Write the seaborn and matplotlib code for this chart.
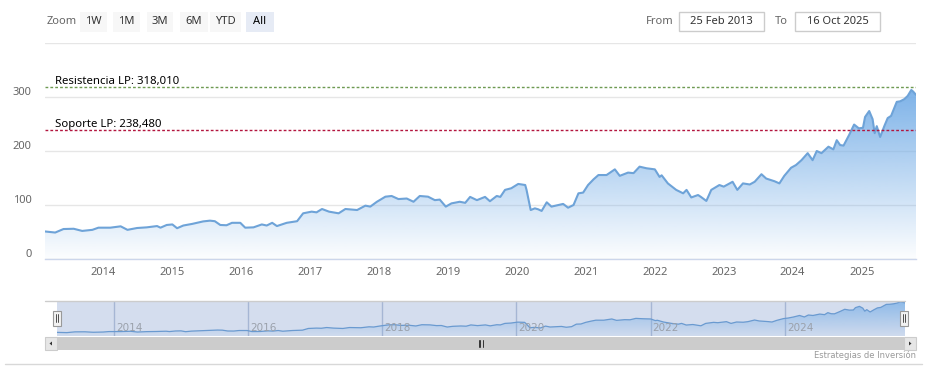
import numpy as np
import pandas as pd
import matplotlib
matplotlib.use("Agg")
import matplotlib.pyplot as plt
import matplotlib.dates as mdates
import seaborn as sns
from matplotlib.patches import Rectangle, Polygon
from matplotlib.lines import Line2D
from matplotlib.transforms import ScaledTranslation

# ---------------- data ----------------
dates = [
    "2013-02-25", "2013-04-20", "2013-06-03", "2013-07-27", "2013-09-10", "2013-11-03", "2013-12-05",
    "2014-02-06", "2014-04-02", "2014-05-08", "2014-06-28", "2014-08-18", "2014-10-12", "2014-10-30",
    "2014-12-02", "2015-01-01", "2015-01-26", "2015-02-28", "2015-04-16", "2015-06-13", "2015-07-19",
    "2015-08-14", "2015-09-12", "2015-10-15", "2015-11-13", "2015-12-27", "2016-01-22", "2016-03-06",
    "2016-04-19", "2016-05-15", "2016-06-13", "2016-07-08", "2016-08-29", "2016-10-23", "2016-11-24",
    "2017-01-08", "2017-02-03", "2017-03-04", "2017-04-10", "2017-05-31", "2017-07-06", "2017-09-06",
    "2017-10-20", "2017-11-15", "2017-12-20", "2018-02-03", "2018-03-08", "2018-04-13", "2018-05-27",
    "2018-07-02", "2018-08-04", "2018-09-17", "2018-10-23", "2018-11-18", "2018-12-20", "2019-01-19",
    "2019-03-04", "2019-04-02", "2019-04-28", "2019-06-03", "2019-07-16", "2019-08-11", "2019-09-16",
    "2019-10-05", "2019-10-30", "2019-12-02", "2020-01-08", "2020-02-14", "2020-02-21", "2020-03-14",
    "2020-04-05", "2020-04-23", "2020-05-11", "2020-06-07", "2020-07-02", "2020-08-08", "2020-09-02",
    "2020-09-28", "2020-10-27", "2020-11-22", "2020-12-17", "2021-01-12", "2021-02-10", "2021-03-08",
    "2021-04-20", "2021-06-03", "2021-06-29", "2021-08-12", "2021-09-10", "2021-10-12", "2021-11-18",
    "2022-01-01", "2022-01-26", "2022-02-06", "2022-03-11", "2022-04-24", "2022-05-31", "2022-06-18",
    "2022-07-13", "2022-08-18", "2022-09-02", "2022-10-01", "2022-10-27", "2022-11-24", "2022-12-09",
    "2023-01-01", "2023-02-17", "2023-03-14", "2023-04-13", "2023-05-19", "2023-06-14", "2023-07-20",
    "2023-08-14", "2023-09-27", "2023-10-23", "2023-11-18", "2023-12-24", "2024-01-19", "2024-02-17",
    "2024-03-21", "2024-04-16", "2024-05-08", "2024-06-02", "2024-07-09", "2024-08-04", "2024-08-22",
    "2024-09-09", "2024-09-27", "2024-10-27", "2024-11-22", "2024-12-17", "2025-01-08", "2025-01-19",
    "2025-02-10", "2025-02-28", "2025-03-11", "2025-03-22", "2025-04-09", "2025-05-01", "2025-05-19",
    "2025-06-06", "2025-07-06", "2025-07-24", "2025-08-15", "2025-09-02", "2025-09-21", "2025-10-01",
    "2025-10-16",
]
values = [
    51, 49, 55.5, 56, 52, 54, 58,
    58, 60.5, 54, 57.4, 58.6, 61, 58,
    63, 64, 57, 62, 65, 69.6, 71,
    70, 63, 62.5, 67, 67, 58, 58.6,
    64, 62, 67, 61, 67, 70, 84.6,
    87.7, 86.4, 92.6, 87.7, 84.6, 92.6, 90.7,
    98.8, 97, 106, 115.4, 116.7, 111, 112,
    106, 116.7, 115.4, 109, 110, 97, 103,
    106, 104, 115, 109, 115, 107, 116.7,
    115, 128, 131, 139, 137, 128, 90.7,
    93.8, 92, 89, 105, 97, 100, 102,
    95, 100, 121.6, 123, 137, 147.5, 155.5,
    155.5, 166, 154, 160, 159, 171, 168,
    166, 152, 155, 140, 128, 121.6, 128,
    114, 118.5, 115, 107.5, 128, 134, 137,
    134, 143, 128, 140, 138, 143, 157,
    149, 144, 140, 154, 169, 174, 183,
    196, 183, 200, 196, 208, 203, 220,
    211, 210, 230, 249, 242, 243, 263,
    274, 259, 233, 246, 226, 246, 261,
    265, 291, 292, 296, 302, 313, 310,
    304,
]
resistance = 318.010
support = 238.480
resistance_label = "Resistencia LP: 318,010"
support_label = "Soporte LP: 238,480"
year_ticks = [2014, 2015, 2016, 2017, 2018, 2019, 2020, 2021, 2022, 2023, 2024, 2025]
nav_year_ticks = [2014, 2016, 2018, 2020, 2022, 2024]
y_ticks = [0, 100, 200, 300, 400]
y_labels = ["0", "100", "200", "300", ""]
zoom_buttons = ["1W", "1M", "3M", "6M", "YTD", "All"]
from_date = "25 Feb 2013"
to_date = "16 Oct 2025"
credit = "Estrategias de Inversión"

# ---------------- style ----------------
W, H = 931, 379
sns.set_style("white")
plt.rcParams["font.family"] = ["Noto Sans", "DejaVu Sans"]

LINE = "#6ea3d8"
FILL_RGB = np.array([118, 174, 231]) / 255.0
GRID = "#e6e6e6"
LABEL = "#666666"


def fx(px):
    return px / W


def fy(py):
    return 1 - py / H


df = pd.DataFrame({"date": pd.to_datetime(dates), "value": values})
xnum = mdates.date2num(df["date"])
yv = np.asarray(values, dtype=float)

fig = plt.figure(figsize=(W / 100, H / 100), dpi=100)
fig.patch.set_facecolor("white")


def grad_fill(ax, x, y, base, ymax, a_top, a_bot, zorder=2):
    verts = [(x[0], base)] + list(zip(x, y)) + [(x[-1], base)]
    patch = Polygon(verts, closed=True, facecolor="none", edgecolor="none")
    ax.add_patch(patch)
    n = 256
    img = np.zeros((n, 1, 4))
    img[..., :3] = FILL_RGB
    img[..., 3] = np.linspace(a_top, a_bot, n)[:, None]
    im = ax.imshow(img, extent=[x[0], x[-1], base, ymax], aspect="auto",
                   origin="upper", zorder=zorder, interpolation="bilinear")
    im.set_clip_path(patch)


# ---------------- main axes ----------------
ax = fig.add_axes([fx(45), fy(259), fx(871), 216 / H])
grad_fill(ax, xnum, yv, 0, yv.max(), 0.95, 0.02)
sns.lineplot(data=df, x="date", y="value", ax=ax, color=LINE, lw=1.5, zorder=3)
ax.set_xlim(xnum[0], xnum[-1])
ax.set_ylim(0, 400)
ax.set_xlabel("")
ax.set_ylabel("")
for s in ["top", "left", "right"]:
    ax.spines[s].set_visible(False)
ax.spines["bottom"].set_color("#ccd6eb")
ax.spines["bottom"].set_linewidth(1)
ax.set_yticks(y_ticks)
ax.set_yticklabels(y_labels)
ax.yaxis.grid(True, color=GRID, lw=1)
ax.xaxis.grid(False)
ax.set_axisbelow(True)
ax.tick_params(axis="y", length=0, pad=9.5, labelcolor=LABEL, labelsize=8)
for lab in ax.get_yticklabels():
    lab.set_transform(lab.get_transform() + ScaledTranslation(0, 6 / 100, fig.dpi_scale_trans))
xt = [mdates.date2num(pd.Timestamp(f"{y}-01-01")) for y in year_ticks]
ax.set_xticks(xt)
ax.set_xticklabels([str(y) for y in year_ticks])
ax.tick_params(axis="x", length=5, width=1, color="#ccd6eb", labelcolor=LABEL,
               labelsize=8, pad=1, direction="out")

# plot lines
ax.axhline(resistance, color="#6e9a52", lw=1, ls=(0, (2, 1.5)), zorder=4)
ax.axhline(support, color="#b3163f", lw=1, ls=(0, (2, 1.5)), zorder=4)
ax.annotate(resistance_label, xy=(0, resistance), xycoords=("axes fraction", "data"),
            xytext=(10, 0), textcoords="offset pixels", va="bottom", ha="left",
            fontsize=8.2, color="black", zorder=5)
ax.annotate(support_label, xy=(0, support), xycoords=("axes fraction", "data"),
            xytext=(10, 0), textcoords="offset pixels", va="bottom", ha="left",
            fontsize=8.2, color="black", zorder=5)

# ---------------- navigator ----------------
nav = fig.add_axes([fx(57), fy(336), fx(848), 35 / H])
nav.set_facecolor("white")
grad_fill(nav, xnum, yv, 20, yv.max(), 0.75, 0.05, zorder=2)
sns.lineplot(data=df, x="date", y="value", ax=nav, color="#6a9ad0", lw=0.9, zorder=3)
nav.set_xlim(xnum[0], xnum[-1])
nav.set_ylim(20, 320)
nav.set_xlabel("")
nav.set_ylabel("")
nav.set_yticks([])
nxt = [mdates.date2num(pd.Timestamp(f"{y}-01-01")) for y in nav_year_ticks]
nav.set_xticks(nxt)
nav.set_xticklabels([])
nav.tick_params(axis="x", length=0)
nav.xaxis.grid(True, color="#c0c9db", lw=1)
nav.set_axisbelow(True)
for s in nav.spines.values():
    s.set_visible(False)
# mask (selected range shading)
nav.axvspan(xnum[0], xnum[-1], color=(102 / 255, 133 / 255, 194 / 255), alpha=0.28, lw=0, zorder=1)
for y, xv in zip(nav_year_ticks, nxt):
    nav.annotate(str(y), xy=(xv, 0), xycoords=("data", "axes fraction"),
                 xytext=(2, 3), textcoords="offset pixels", ha="left", va="bottom",
                 fontsize=7.5, color="#9aa0aa", zorder=4, family="DejaVu Sans")

# outline top
fig.add_artist(Line2D([fx(45), fx(905)], [fy(301), fy(301)], color="#cccccc", lw=1,
                      transform=fig.transFigure))

# handles
for hx in (57, 904):
    fig.add_artist(Rectangle((fx(hx - 4), fy(326)), fx(8), 15 / H, transform=fig.transFigure,
                             facecolor="#f2f2f2", edgecolor="#999999", lw=0.8, zorder=6))
    for dx in (-1, 1):
        fig.add_artist(Line2D([fx(hx + dx), fx(hx + dx)], [fy(314), fy(322)], color="#333333",
                              lw=0.6, transform=fig.transFigure, zorder=7))

# scrollbar
fig.add_artist(Rectangle((fx(45), fy(350)), fx(871), 13 / H, transform=fig.transFigure,
                         facecolor="#f2f2f2", edgecolor="#f2f2f2", lw=0, zorder=5))
fig.add_artist(Rectangle((fx(57), fy(350)), fx(847), 13 / H, transform=fig.transFigure,
                         facecolor="#cccccc", edgecolor="#cccccc", lw=0, zorder=5))
for bx in (45, 904):
    fig.add_artist(Rectangle((fx(bx), fy(350)), fx(12), 13 / H, transform=fig.transFigure,
                             facecolor="#e6e6e6", edgecolor="#cccccc", lw=0.8, zorder=6))
# arrows
fig.add_artist(Polygon([(fx(49.5), fy(343.5)), (fx(52), fy(341.5)), (fx(52), fy(345.5))],
                       closed=True, transform=fig.transFigure, facecolor="#333333", lw=0, zorder=7))
fig.add_artist(Polygon([(fx(911.5), fy(343.5)), (fx(909), fy(341.5)), (fx(909), fy(345.5))],
                       closed=True, transform=fig.transFigure, facecolor="#333333", lw=0, zorder=7))
for gx in (478.5, 480.5, 482.5):
    fig.add_artist(Line2D([fx(gx), fx(gx)], [fy(340), fy(347)], color="#333333", lw=0.7,
                          transform=fig.transFigure, zorder=7))

# credits + bottom rule
fig.text(fx(916), fy(355), credit, ha="right", va="center", fontsize=6, color="#999999",
         family="DejaVu Sans")
fig.add_artist(Line2D([fx(5), fx(922)], [fy(364), fy(364)], color="#d8d8d8", lw=1,
                      transform=fig.transFigure))

# ---------------- range selector ----------------
fig.text(fx(47), fy(21), "Zoom", ha="left", va="center", fontsize=8, color=LABEL)
btn_x = [(80, 107), (113, 140), (147, 173), (180, 208), (210, 241), (246, 274)]
for lab, (x0, x1) in zip(zoom_buttons, btn_x):
    sel = lab == "All"
    fig.add_artist(Rectangle((fx(x0), fy(32)), fx(x1 - x0), 20 / H, transform=fig.transFigure,
                             facecolor="#e6ebf5" if sel else "#f7f7f7", lw=0))
    fig.text(fx((x0 + x1) / 2), fy(21), lab, ha="center", va="center", fontsize=8,
             color="black" if sel else "#333333", fontweight="bold" if sel else "normal")

fig.text(fx(646), fy(21), "From", ha="left", va="center", fontsize=8, color=LABEL)
fig.add_artist(Rectangle((fx(679), fy(31)), fx(85), 19 / H, transform=fig.transFigure,
                         facecolor="white", edgecolor="#cccccc", lw=1))
fig.text(fx(721.5), fy(21), from_date, ha="center", va="center", fontsize=8, color="#333333")
fig.text(fx(775), fy(21), "To", ha="left", va="center", fontsize=8, color=LABEL)
fig.add_artist(Rectangle((fx(795), fy(31)), fx(85), 19 / H, transform=fig.transFigure,
                         facecolor="white", edgecolor="#cccccc", lw=1))
fig.text(fx(837.5), fy(21), to_date, ha="center", va="center", fontsize=8, color="#333333")

fig.savefig("out.png", dpi=100, facecolor="white")
